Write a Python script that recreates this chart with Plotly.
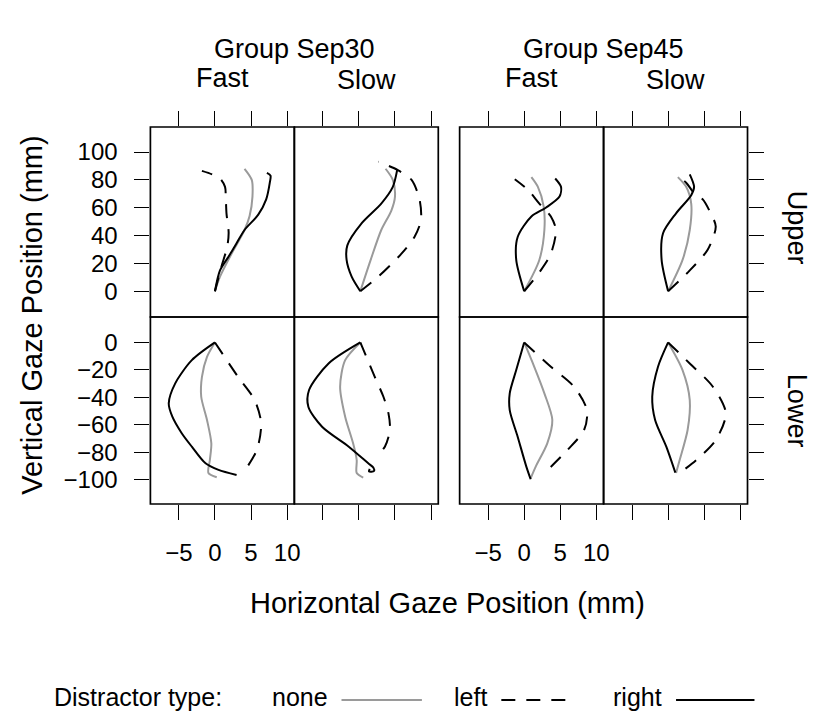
import plotly.graph_objects as go

# ---------------- data ----------------
groups = ["Sep30", "Sep45"]
speeds = ["Fast", "Slow"]
positions = ["Upper", "Lower"]
types = ["none", "left", "right"]

x_tick_vals = [-5, 0, 5, 10]
upper_tick_vals = [0, 20, 40, 60, 80, 100]
lower_tick_vals = [-100, -80, -60, -40, -20, 0]

# Group Sep30, Fast, Upper
sep30_fast_upper_none_x = [0, 0.7, 2.3, 4.1, 4.8, 5.2, 5.1, 4.1]
sep30_fast_upper_none_y = [0, 10.5, 27, 44, 54, 68, 80, 88]
sep30_fast_upper_left_x = [0, 0.9, 1.7, 1.9, 1.6, 1.5, 1.4, 0.7, -0.4, -1.8]
sep30_fast_upper_left_y = [0, 17.7, 32, 42, 56, 68, 75, 81, 84, 86.5]
sep30_fast_upper_right_x = [0, 0.7, 1.9, 3.0, 4.1, 6.0, 7.1, 7.6, 7.7, 7.2]
sep30_fast_upper_right_y = [0, 15, 25, 34.5, 44, 55, 66, 78, 83, 85]

# Group Sep30, Slow, Upper
sep30_slow_upper_none_x = [0.2, 1.6, 3.1, 4.5, 5.0, 4.7, 3.7]
sep30_slow_upper_none_y = [0, 22, 44, 58, 68, 80, 88]
sep30_slow_upper_left_x = [0.2, 2.7, 5.9, 7.7, 8.6, 8.4, 7.3, 5.4, 2.7]
sep30_slow_upper_left_y = [0, 10.5, 27, 39, 51, 66, 80, 87, 93]
sep30_slow_upper_right_x = [0.2, -1.0, -1.7, -1.6, 0.4, 3.1, 4.7, 5.3]
sep30_slow_upper_right_y = [0, 10.5, 22.5, 33, 49, 63, 75, 87]

# Group Sep45, Fast, Upper
sep45_fast_upper_none_x = [0, 2.1, 2.8, 2.7, 1.9, 1.0]
sep45_fast_upper_none_y = [0, 22.5, 44, 61, 75, 82]
sep45_fast_upper_left_x = [0, 2.3, 3.7, 4.4, 3.7, 2.1, 0.5, -1.3]
sep45_fast_upper_left_y = [0, 15, 27, 44, 53.7, 63, 73, 80.5]
sep45_fast_upper_right_x = [0, -1.1, -0.9, 1.0, 3.0, 4.9, 5.1, 4.3]
sep45_fast_upper_right_y = [0, 22.5, 39, 53.7, 60, 68, 75, 81]

# Group Sep45, Slow, Upper
sep45_slow_upper_none_x = [0, 2.0, 3.0, 3.2, 2.5, 1.35]
sep45_slow_upper_none_y = [0, 22.5, 44, 63, 75, 82]
sep45_slow_upper_left_x = [0, 3.0, 5.5, 6.6, 5.9, 4.8, 3.6, 2.5, 1.5]
sep45_slow_upper_left_y = [0, 15, 30, 46.5, 56, 66, 70.5, 78, 82]
sep45_slow_upper_right_x = [0, -0.9, -0.7, 1.1, 3.2, 3.6, 3.0]
sep45_slow_upper_right_y = [0, 22.5, 41.7, 56, 69, 75, 84]

# Group Sep30, Fast, Lower
sep30_fast_lower_none_x = [0, -1.1, -1.8, -1.9, -1.1, -0.5, -0.7, -0.9, 0.25]
sep30_fast_lower_none_y = [0, -10.5, -25, -39.5, -56.4, -73.4, -85.5, -95, -98]
sep30_fast_lower_left_x = [0, 3.2, 5.5, 6.4, 5.8, 3.9]
sep30_fast_lower_left_y = [0, -25, -41.9, -58.8, -78.2, -95]
sep30_fast_lower_right_x = [0, -3.2, -5.5, -6.4, -5.9, -4.6, -3.2, -1.3, 0.5, 3.0]
sep30_fast_lower_right_y = [0, -12.9, -29.8, -44.3, -54, -66, -75.8, -87.9, -92.7, -96.4]

# Group Sep30, Slow, Lower
sep30_slow_lower_none_x = [0.2, -1.9, -2.6, -1.9, -0.8, -0.3, -0.3, 0.6]
sep30_slow_lower_none_y = [0, -12.9, -32.2, -54, -73.4, -85.5, -95, -98.3]
sep30_slow_lower_left_x = [0.2, 2.2, 3.4, 4.1, 4.3, 3.6, 2.4]
sep30_slow_lower_left_y = [0, -25, -39.5, -51.6, -63.7, -75.8, -83]
sep30_slow_lower_right_x = [0.2, -4.2, -6.9, -7.0, -5.1, -1.4, 1.3, 2.0, 2.1, 1.4, 1.5]
sep30_slow_lower_right_y = [0, -15.3, -34.6, -46.8, -61.3, -75.8, -87.9, -91, -93.5, -93.8, -92]

# Group Sep45, Fast, Lower
sep45_fast_lower_none_x = [0, 1.4, 2.8, 3.9, 3.2, 1.6, 0.9]
sep45_fast_lower_none_y = [0, -17.7, -37, -56.4, -73.4, -90.3, -98.8]
sep45_fast_lower_left_x = [0, 3.7, 6.9, 8.7, 8.3, 6.0, 2.8]
sep45_fast_lower_left_y = [0, -17.7, -32.2, -49.2, -63.7, -78.2, -95.1]
sep45_fast_lower_right_x = [0, -1.1, -2.0, -2.0, -0.9, 0.3, 0.9]
sep45_fast_lower_right_y = [0, -20.1, -37, -49.2, -68.6, -90.3, -99.5]

# Group Sep45, Slow, Lower
sep45_slow_lower_none_x = [0, 2.0, 3.0, 2.7, 1.6, 1.1]
sep45_slow_lower_none_y = [0, -20.1, -41.9, -63.7, -85.5, -95]
sep45_slow_lower_left_x = [0, 3.0, 6.2, 8.0, 6.6, 3.9, 1.6]
sep45_slow_lower_left_y = [0, -15.3, -32.2, -51.6, -71, -85.5, -95]
sep45_slow_lower_right_x = [0, -1.4, -2.2, -1.8, -0.25, 1.0]
sep45_slow_lower_right_y = [0, -17.7, -39.5, -56.4, -75.8, -94.7]

# ---------------- layout constants ----------------
W, H = 824, 720
FONT = "Liberation Sans, Arial, Helvetica, sans-serif"
col_px = [(151.5, 296.5), (296.5, 441.5), (463, 608), (608, 753)]
row_px = {"Upper": (127, 317), "Lower": (317, 504)}
x_range = [-8.94, 11.0]
y_ranges = {"Upper": [-18.5, 118], "Lower": [-117.5, 18.5]}

styles = {
    "none": dict(color="#9a9a9a", width=2, dash="solid"),
    "left": dict(color="black", width=2, dash="14px,11px"),
    "right": dict(color="black", width=2, dash="solid"),
}

g = globals()


def px_x(v):
    return v / W


def px_y(v):
    return 1 - v / H


fig = go.Figure()
layout = dict()
shapes = []
idx = 0
for pos in positions:
    for gi, grp in enumerate(groups):
        for si, spd in enumerate(speeds):
            idx += 1
            col = gi * 2 + si
            xa = "xaxis" if idx == 1 else f"xaxis{idx}"
            ya = "yaxis" if idx == 1 else f"yaxis{idx}"
            xr = "x" if idx == 1 else f"x{idx}"
            yr = "y" if idx == 1 else f"y{idx}"
            for t in types:
                name = f"{grp.lower()}_{spd.lower()}_{pos.lower()}_{t}"
                fig.add_trace(go.Scatter(
                    x=g[name + "_x"], y=g[name + "_y"], mode="lines",
                    line=dict(shape="spline", smoothing=0.8, **styles[t]),
                    xaxis=xr, yaxis=yr, showlegend=False, hoverinfo="skip"))
            c0, c1 = col_px[col]
            r0, r1 = row_px[pos]
            xax = dict(domain=[px_x(c0), px_x(c1)], range=x_range, anchor=yr,
                       showgrid=False, zeroline=False, showline=False,
                       tickvals=x_tick_vals, ticks="outside", ticklen=15,
                       tickwidth=1.4, tickcolor="black",
                       tickfont=dict(family=FONT, size=24, color="black"))
            if pos == "Upper":
                xax.update(side="top", showticklabels=False)
            else:
                xax.update(side="bottom", showticklabels=(spd == "Fast"),
                           ticklabelstandoff=12)
            yax = dict(domain=[px_y(r1), px_y(r0)], range=y_ranges[pos], anchor=xr,
                       showgrid=False, zeroline=False, showline=False,
                       tickvals=upper_tick_vals if pos == "Upper" else lower_tick_vals,
                       tickwidth=1.4, tickcolor="black", ticklen=15,
                       tickfont=dict(family=FONT, size=24, color="black"))
            if col == 0:
                yax.update(side="left", ticks="outside", showticklabels=True,
                           ticklabelstandoff=12)
            elif col == 3:
                yax.update(side="right", ticks="outside", showticklabels=False)
            else:
                yax.update(ticks="", showticklabels=False)
            layout[xa] = xax
            layout[ya] = yax
            # panel frame
            shapes.append(dict(type="rect", xref=f"{xr} domain", yref=f"{yr} domain",
                               x0=0, x1=1, y0=0, y1=1,
                               line=dict(color="black", width=1.7), layer="above"))

annotations = []


def ann(text, x, y, size, angle=0, xanchor="center"):
    annotations.append(dict(text=text, x=px_x(x), y=px_y(y), xref="paper", yref="paper",
                            showarrow=False, textangle=angle, xanchor=xanchor,
                            yanchor="middle",
                            font=dict(family=FONT, size=size, color="black")))


# group strips
ann("Group " + groups[0], (col_px[0][0] + col_px[1][1]) / 2, 49, 27)
ann("Group " + groups[1], (col_px[2][0] + col_px[3][1]) / 2, 49, 27)
# speed strips
for col in range(4):
    spd = speeds[col % 2]
    yy = 78 if spd == "Fast" else 80
    ann(spd, (col_px[col][0] + col_px[col][1]) / 2, yy, 27)
# position strips
ann("Upper", 803, 228, 27, angle=90)
ann("Lower", 803, 411, 27, angle=90)
# axis titles
ann("Vertical Gaze Position (mm)", 32, 315, 29, angle=-90)
ann("Horizontal Gaze Position (mm)", 451, 603, 29)
# legend
ann("Distractor type:", 52, 697, 25, xanchor="left")
ann("none", 272, 697, 25, xanchor="left")
ann("left", 455, 697, 25, xanchor="left")
ann("right", 615, 697, 25, xanchor="left")

legend_keys = [("none", 344, 425), ("left", 505, 575), ("right", 681, 760)]
for t, a, b in legend_keys:
    st = styles[t]
    shapes.append(dict(type="line", xref="paper", yref="paper",
                       x0=px_x(a), x1=px_x(b), y0=px_y(700), y1=px_y(700),
                       line=dict(color=st["color"], width=st["width"], dash=st["dash"])))

fig.update_layout(
    width=W, height=H, margin=dict(l=0, r=0, t=0, b=0),
    paper_bgcolor="white", plot_bgcolor="white",
    annotations=annotations, shapes=shapes, showlegend=False,
    font=dict(family=FONT, color="black"),
    **layout)

fig.write_html("out.html")
